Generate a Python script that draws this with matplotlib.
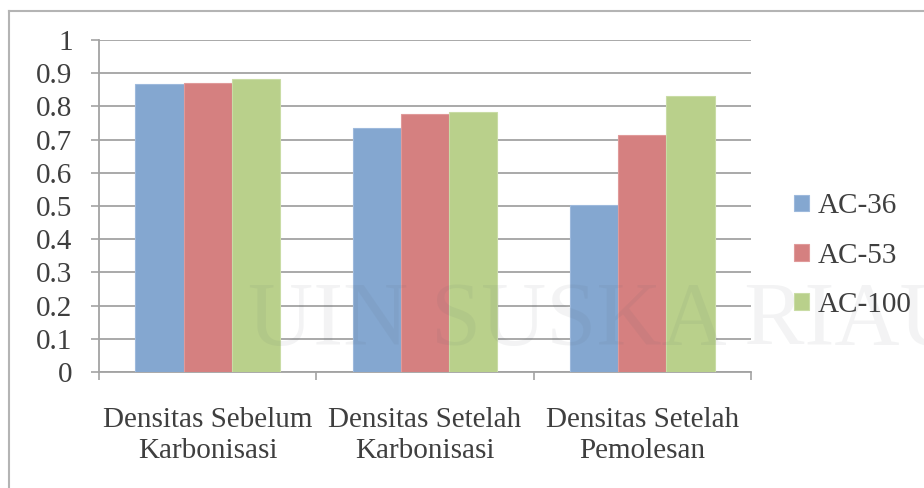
import numpy as np
import matplotlib.pyplot as plt
from matplotlib.lines import Line2D

plt.rcParams['font.family'] = ['Liberation Serif', 'DejaVu Serif']

# Density data per treatment stage
categories = ['Densitas Sebelum\nKarbonisasi', 'Densitas Setelah\nKarbonisasi', 'Densitas Setelah\nPemolesan']
series_names = ['AC-36', 'AC-53', 'AC-100']
ac36 = [0.868, 0.735, 0.502]
ac53 = [0.869, 0.777, 0.714]
ac100 = [0.882, 0.784, 0.832]
yticks = [0, 0.1, 0.2, 0.3, 0.4, 0.5, 0.6, 0.7, 0.8, 0.9, 1]
ytick_labels = ['0', '0.1', '0.2', '0.3', '0.4', '0.5', '0.6', '0.7', '0.8', '0.9', '1']

colors = ['#84a7d0', '#d58080', '#b9d08b']
edges = ['#9db9dc', '#e09a9a', '#c9dca5']
grid_col = '#a3a3a3'
text_col = '#3f3f3f'

fig = plt.figure(figsize=(9.24, 4.88), dpi=100)
ax = fig.add_axes([99 / 924, 116 / 488, 652 / 924, 332 / 488])

x = np.arange(len(categories))
width = 0.222
for i, (vals, name) in enumerate(zip([ac36, ac53, ac100], series_names)):
    ax.bar(x + (i - 1) * width, vals, width, color=colors[i], edgecolor=edges[i],
           linewidth=0.8, label=name, zorder=3)

ax.set_xlim(-0.5, 2.5)
ax.set_ylim(0, 1)
ax.set_yticks(yticks)
ax.set_yticklabels(ytick_labels)
ax.yaxis.grid(True, color=grid_col, linewidth=1.3, zorder=0)
ax.set_axisbelow(True)

ax.set_xticks(x)
ax.set_xticklabels(categories, linespacing=1.25)
ax.set_xticks([-0.5, 0.5, 1.5, 2.5], minor=True)
ax.tick_params(axis='x', which='major', length=0, pad=25, labelsize=21, colors=text_col)
ax.tick_params(axis='x', which='minor', length=6, width=1.2, color=grid_col, direction='out')
ax.tick_params(axis='y', length=6, width=1.2, color=grid_col, pad=13, labelsize=21,
               labelcolor=text_col)

for side in ['top', 'right']:
    ax.spines[side].set_visible(False)
for side in ['left', 'bottom']:
    ax.spines[side].set_color(grid_col)
    ax.spines[side].set_linewidth(1.3)

leg = ax.legend(loc='center left', bbox_to_anchor=(0.844, 0.476),
                bbox_transform=fig.transFigure, frameon=False, fontsize=21,
                handlelength=0.5, handleheight=0.5, handletextpad=0.3,
                labelspacing=0.8, borderpad=0)
for t in leg.get_texts():
    t.set_color(text_col)

# chart frame
fig.add_artist(Line2D([8.5 / 924, 8.5 / 924], [0, 1 - 11 / 488], color='#b4b4b4',
                      linewidth=1.5, transform=fig.transFigure))
fig.add_artist(Line2D([8.5 / 924, 1], [1 - 11 / 488, 1 - 11 / 488], color='#b4b4b4',
                      linewidth=1.5, transform=fig.transFigure))

# faint watermark
fig.text(248 / 924, 1 - 345 / 488, 'UIN SUSKA RIAU', fontsize=65, color='#55606a',
         alpha=0.07, ha='left', va='baseline', zorder=10)

fig.savefig('out.png', dpi=100)
